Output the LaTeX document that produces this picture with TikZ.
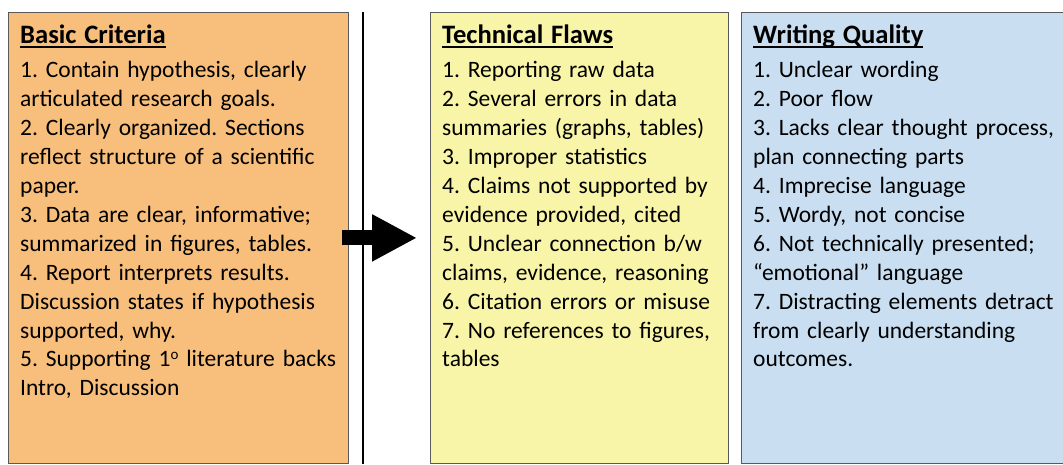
\documentclass[tikz,border=0pt]{standalone}
\usepackage{fontspec}
\setmainfont{Carlito}
\usepackage{tikz}
\usepackage{xcolor}
\usetikzlibrary{positioning,arrows.meta}

\definecolor{critorange}{RGB}{248,191,124}
\definecolor{flawyellow}{RGB}{249,245,168}
\definecolor{qualblue}{RGB}{201,222,240}

\newcommand{\paneltitle}[1]{\setbox0\hbox{\fontsize{26.6}{28.9}\selectfont\bfseries #1}\rlap{\rule[-5pt]{\wd0}{2pt}}\box0}

\begin{document}
\frenchspacing
\begin{tikzpicture}[x=1pt, y=-1pt,
    panel/.style={draw=black!65, line width=0.8pt, minimum height=451pt, anchor=north west, inner sep=0pt},
    paneltext/.style={anchor=base west, align=left, text width=400pt, inner sep=0pt, font=\fontsize{23.5}{28.9}\selectfont}]
    \useasboundingbox (0,0) rectangle (1063,464);
    \node[panel, fill=critorange, minimum width=340pt] (basic) at (8,12) {};
    \node[panel, fill=flawyellow, minimum width=298pt] (flaws) at (430,12) {};
    \node[panel, fill=qualblue, minimum width=340pt] (quality) at (741,12) {};
    \draw[line width=2.6pt] (363,12) -- (363,464);
    \draw[line width=15pt, -{Triangle[length=45pt,width=44pt]}] ([xshift=-7pt]basic.east) -- ([xshift=-13pt]flaws.west);
    \node[paneltext] (basictext) at ([xshift=12pt]basic.north west |- 0,43) {\paneltitle{Basic Criteria}\\[6pt]
        1. Contain hypothesis, clearly\\
        articulated research goals.\\
        2. Clearly organized. Sections\\
        reflect structure of a scientific\\
        paper.\\
        3. Data are clear, informative;\\
        summarized in figures, tables.\\
        4. Report interprets results.\\
        Discussion states if hypothesis\\
        supported, why.\\
        5. Supporting 1{\fontsize{15}{15}\selectfont\raisebox{7pt}{o}} literature backs\\
        Intro, Discussion};
    \node[paneltext] (flawstext) at ([xshift=12pt]flaws.north west |- 0,43) {\paneltitle{Technical Flaws}\\[6pt]
        1. Reporting raw data\\
        2. Several errors in data\\
        summaries (graphs, tables)\\
        3. Improper statistics\\
        4. Claims not supported by\\
        evidence provided, cited\\
        5. Unclear connection b/w\\
        claims, evidence, reasoning\\
        6. Citation errors or misuse\\
        7. No references to figures,\\
        tables};
    \node[paneltext] (qualitytext) at ([xshift=12pt]quality.north west |- 0,43) {\paneltitle{Writing Quality}\\[6pt]
        1. Unclear wording\\
        2. Poor flow\\
        3. Lacks clear thought process,\\
        plan connecting parts\\
        4. Imprecise language\\
        5. Wordy, not concise\\
        6. Not technically presented;\\
        “emotional” language\\
        7. Distracting elements detract\\
        from clearly understanding\\
        outcomes.};
\end{tikzpicture}
\end{document}
